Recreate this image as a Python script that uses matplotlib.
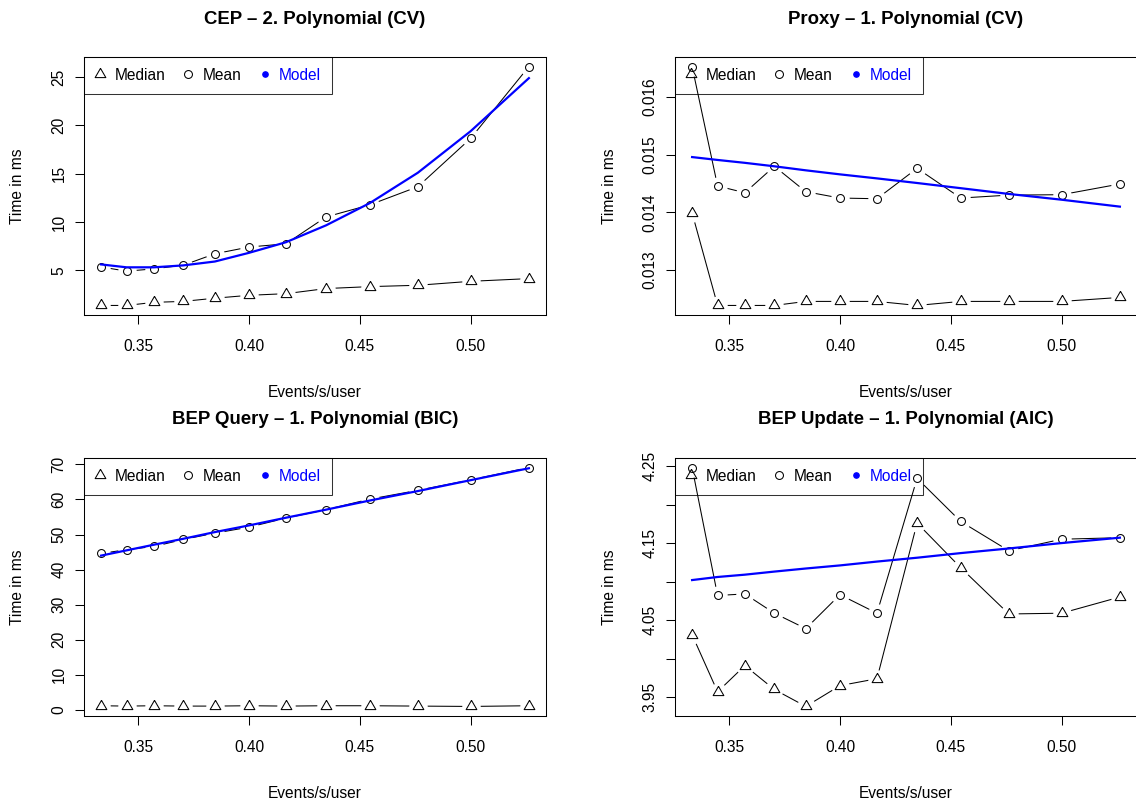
import matplotlib
matplotlib.use("Agg")
import matplotlib.pyplot as plt
from matplotlib.lines import Line2D

plt.rcParams['font.family'] = ['Liberation Sans', 'DejaVu Sans']

# load level (x axis), same for all four panels
events = [0.3333, 0.3448, 0.3571, 0.3704, 0.3846, 0.4000,
          0.4167, 0.4348, 0.4545, 0.4762, 0.5000, 0.5263]
x_ticks = [0.35, 0.40, 0.45, 0.50]
x_labels = ['0.35', '0.40', '0.45', '0.50']

# CEP - 2. Polynomial (CV)
cep_median = [1.35, 1.35, 1.67, 1.77, 2.10, 2.40, 2.57, 3.10, 3.30, 3.44, 3.85, 4.13]
cep_mean = [5.34, 4.90, 5.14, 5.52, 6.70, 7.40, 7.74, 10.52, 11.77, 13.65, 18.65, 26.10]
cep_model = [5.60, 5.30, 5.30, 5.50, 5.90, 6.80, 7.90, 9.65, 11.95, 15.10, 19.40, 24.90]
cep_yticks = [5, 10, 15, 20, 25]
cep_ylabels = ['5', '10', '15', '20', '25']

# Proxy - 1. Polynomial (CV)
proxy_median = [0.01399, 0.012385, 0.012385, 0.012385, 0.012455, 0.012455,
                0.012455, 0.012385, 0.012455, 0.012455, 0.012455, 0.012524]
proxy_mean = [0.016531, 0.014458, 0.014341, 0.014800, 0.014359, 0.014249,
              0.014237, 0.014765, 0.014249, 0.014300, 0.014307, 0.014493]
proxy_model = [0.01496, 0.01491, 0.01486, 0.01480, 0.01473, 0.01466,
               0.01459, 0.01451, 0.01442, 0.01432, 0.01422, 0.01410]
proxy_yticks = [0.013, 0.014, 0.015, 0.016]
proxy_ylabels = ['0.013', '0.014', '0.015', '0.016']

# BEP Query - 1. Polynomial (BIC)
query_median = [1.2, 1.1, 1.2, 1.1, 1.1, 1.2, 1.1, 1.2, 1.2, 1.1, 1.0, 1.2]
query_mean = [44.6, 45.7, 46.6, 48.6, 50.4, 52.1, 54.7, 57.1, 60.1, 62.6, 65.6, 69.1]
query_model = [44.0, 45.5, 47.1, 48.8, 50.7, 52.6, 54.8, 57.1, 59.7, 62.4, 65.5, 68.9]
query_yticks = [0, 10, 20, 30, 40, 50, 60, 70]
query_ylabels = ['0', '10', '20', '30', '40', '50', '60', '70']

# BEP Update - 1. Polynomial (AIC)
update_median = [4.031, 3.957, 3.991, 3.960, 3.938, 3.965,
                 3.974, 4.176, 4.118, 4.058, 4.059, 4.080]
update_mean = [4.248, 4.082, 4.084, 4.059, 4.039, 4.083,
               4.059, 4.234, 4.178, 4.140, 4.155, 4.157]
update_model = [4.102, 4.106, 4.109, 4.113, 4.117, 4.121,
                4.126, 4.131, 4.137, 4.143, 4.150, 4.157]
update_yticks = [3.95, 4.00, 4.05, 4.10, 4.15, 4.20, 4.25]
update_ylabels = ['3.95', '', '4.05', '', '4.15', '', '4.25']

titles = ['CEP \u2013 2. Polynomial (CV)', 'Proxy \u2013 1. Polynomial (CV)',
          'BEP Query \u2013 1. Polynomial (BIC)', 'BEP Update \u2013 1. Polynomial (AIC)']

W, H = 1136, 801
# axes boxes in pixels: left, top, right, bottom
boxes = [(84, 57, 546, 315), (675, 57, 1137, 315),
         (84, 458, 546, 716), (675, 458, 1137, 716)]

panels = [
    (cep_median, cep_mean, cep_model, cep_yticks, cep_ylabels),
    (proxy_median, proxy_mean, proxy_model, proxy_yticks, proxy_ylabels),
    (query_median, query_mean, query_model, query_yticks, query_ylabels),
    (update_median, update_mean, update_model, update_yticks, update_ylabels),
]

# R style triangle (pch 2), centred on its centroid
tri = [(0, 1.555), (1.347, -0.778), (-1.347, -0.778), (0, 1.555)]
FS = 11.2
TRI_MS, CIRC_MS, GAP_MS = 8.9, 5.7, 13.3

fig = plt.figure(figsize=(W / 100, H / 100), dpi=100, facecolor='white')

for (l, t, r, b), title, (med, mean, model, yt, yl) in zip(boxes, titles, panels):
    ax = fig.add_axes([l / W, 1 - b / H, (r - l) / W, (b - t) / H])
    bw, bh = r - l, b - t

    # type="b": lines with gaps around the points
    ax.plot(events, med, color='black', lw=0.75, zorder=2.0)
    ax.plot(events, med, ls='none', marker='o', ms=GAP_MS, mfc='white', mec='none', zorder=2.05)
    ax.plot(events, med, ls='none', marker=tri, ms=TRI_MS, mfc='none', mec='black', mew=0.75, zorder=2.1)
    ax.plot(events, mean, color='black', lw=0.75, zorder=2.15)
    ax.plot(events, mean, ls='none', marker='o', ms=GAP_MS, mfc='white', mec='none', zorder=2.2)
    ax.plot(events, mean, ls='none', marker='o', ms=CIRC_MS, mfc='none', mec='black', mew=0.75, zorder=2.25)
    ax.plot(events, model, color='blue', lw=1.6, zorder=2.3)
    ax.margins(0.04)

    ax.set_xticks(x_ticks)
    ax.set_xticklabels(x_labels)
    ax.set_yticks(yt)
    ax.set_yticklabels(yl)
    ax.tick_params(direction='out', length=6.5, width=0.75, labelsize=FS, color='black')
    ax.tick_params(axis='x', pad=11)
    ax.tick_params(axis='y', pad=6)
    for lab in ax.get_yticklabels():
        lab.set_rotation(90)
        lab.set_va('center')
    for s in ax.spines.values():
        s.set_linewidth(0.75)

    ax.set_xlabel('Events/s/user', fontsize=FS, va='center')
    ax.xaxis.set_label_coords(0.5, -77 / bh)
    ax.set_ylabel('Time in ms', fontsize=FS, va='center')
    ax.yaxis.set_label_coords(-66 / bw, 0.5)
    ax.set_title(title, fontsize=13.4, fontweight='bold', y=1 + 38 / bh, va='center', pad=0)

    handles = [
        Line2D([], [], ls='none', marker=tri, ms=TRI_MS, mfc='none', mec='black', mew=0.75),
        Line2D([], [], ls='none', marker='o', ms=CIRC_MS, mfc='none', mec='black', mew=0.75),
        Line2D([], [], ls='none', marker='o', ms=3.8, mfc='blue', mec='blue'),
    ]
    leg = ax.legend(handles, ['Median', 'Mean', 'Model'], loc='upper left',
                    bbox_to_anchor=(0, 1), borderaxespad=0, ncol=3, fontsize=FS,
                    frameon=True, fancybox=False, edgecolor='black', facecolor='none',
                    framealpha=None, borderpad=0.7, handlelength=0.66, handletextpad=0.6,
                    columnspacing=1.15, labelcolor=['black', 'black', 'blue'])
    leg.get_frame().set_linewidth(0.75)

fig.savefig('out.png', dpi=100, facecolor='white')
